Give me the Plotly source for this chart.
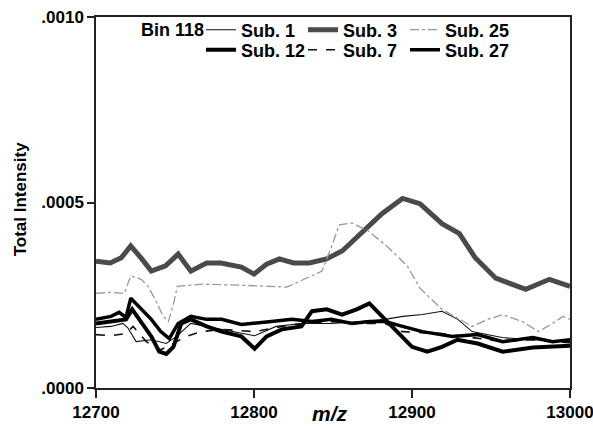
import plotly.graph_objects as go

# ---- data ----
sub3_mz = [12700, 12709, 12716, 12722, 12729, 12735, 12744, 12752, 12760, 12770, 12779, 12792, 12800, 12808,
           12816, 12825, 12835, 12846, 12856, 12870, 12881, 12894, 12905, 12919, 12930, 12940, 12953, 12972,
           12987, 13000]
sub3_val = [0.000342, 0.000337, 0.000351, 0.000383, 0.000348, 0.000315, 0.000329, 0.000361, 0.000315, 0.000337,
            0.000337, 0.000326, 0.000307, 0.000334, 0.000348, 0.000337, 0.000337, 0.000348, 0.000370, 0.000424,
            0.000470, 0.000511, 0.000497, 0.000443, 0.000416, 0.000351, 0.000296, 0.000266, 0.000293, 0.000274]

sub27_mz = [12700, 12709.5, 12714.6, 12719, 12722, 12728.6, 12735, 12741, 12746.4, 12752, 12760, 12770, 12779.5,
            12792, 12800.4, 12811, 12824, 12836.7, 12849, 12862, 12873, 12883, 12894, 12906.6, 12925.6, 12941.5,
            12957.4, 12976.5, 12989, 13000]
sub27_val = [0.000185, 0.000193, 0.000204, 0.000190, 0.000242, 0.000212, 0.000185, 0.000152, 0.000133, 0.000174,
             0.000193, 0.000185, 0.000185, 0.000171, 0.000174, 0.000179, 0.000185, 0.000179, 0.000185, 0.000174,
             0.000179, 0.000179, 0.000166, 0.000152, 0.000139, 0.000144, 0.000125, 0.000136, 0.000125, 0.000130]

sub12_mz = [12700, 12709.5, 12719, 12722.9, 12728.6, 12735, 12740, 12744.5, 12749, 12754, 12760, 12770, 12779.5,
            12792, 12800.4, 12808, 12817.6, 12830, 12836.7, 12846, 12855.7, 12865, 12873, 12881, 12890.7, 12900,
            12909.7, 12919, 12928.8, 12941.5, 12957.4, 12976.5, 13000]
sub12_val = [0.000174, 0.000179, 0.000185, 0.000212, 0.000179, 0.000139, 0.000098, 0.000092, 0.000111, 0.000174,
             0.000185, 0.000166, 0.000152, 0.000139, 0.000106, 0.000139, 0.000158, 0.000166, 0.000207, 0.000212,
             0.000198, 0.000212, 0.000228, 0.000193, 0.000152, 0.000111, 0.000098, 0.000111, 0.000130, 0.000120,
             0.000098, 0.000109, 0.000114]

sub1_mz = [12700, 12709.5, 12717, 12720, 12725.4, 12735, 12744.5, 12751, 12760, 12773, 12786, 12800.4, 12814,
           12830, 12849, 12868, 12883, 12894, 12906.6, 12919, 12929, 12938, 12957, 12976.5, 13000]
sub1_val = [0.000163, 0.000166, 0.000174, 0.000163, 0.000125, 0.000130, 0.000120, 0.000139, 0.000174, 0.000163,
            0.000152, 0.000141, 0.000166, 0.000174, 0.000174, 0.000179, 0.000185, 0.000193, 0.000198, 0.000207,
            0.000185, 0.000152, 0.000136, 0.000130, 0.000125]

sub7_mz = [12700, 12709.5, 12719, 12723.5, 12731.8, 12741, 12749, 12757, 12766.7, 12779.5, 12800.4, 12824, 12849,
           12868, 12883, 12894, 12906.6, 12919, 12938, 12957, 12976.5, 13000]
sub7_val = [0.000144, 0.000141, 0.000147, 0.000166, 0.000125, 0.000103, 0.000120, 0.000139, 0.000152, 0.000158,
            0.000152, 0.000171, 0.000179, 0.000174, 0.000174, 0.000152, 0.000149, 0.000147, 0.000136, 0.000125,
            0.000130, 0.000122]

sub25_mz = [12700, 12709.5, 12717.8, 12722, 12728.6, 12733, 12738, 12742.6, 12745.8, 12749, 12751.5, 12766.7,
            12792, 12820.8, 12843, 12849, 12854, 12862, 12872, 12884, 12897, 12905, 12919, 12938, 12948, 12957.4,
            12970, 12980, 12989, 12995.6, 13000]
sub25_val = [0.000255, 0.000258, 0.000255, 0.000302, 0.000293, 0.000274, 0.000234, 0.000193, 0.000179, 0.000226,
             0.000274, 0.000280, 0.000277, 0.000272, 0.000315, 0.000380, 0.000440, 0.000445, 0.000424, 0.000383,
             0.000329, 0.000269, 0.000212, 0.000166, 0.000185, 0.000198, 0.000179, 0.000152, 0.000174, 0.000193,
             0.000185]

x_ticks = [12700, 12800, 12900, 13000]
x_tick_text = ["12700", "12800", "12900", "13000"]
y_ticks = [0.0, 0.0005, 0.0010]
y_tick_text = [".0000", ".0005", ".0010"]
legend_title = "Bin 118"

FONT = "Liberation Sans"

fig = go.Figure()
# row 1 legend: Sub.1, Sub.3, Sub.25 ; row 2 legend: Sub.12, Sub.7, Sub.27
fig.add_trace(go.Scatter(x=sub1_mz, y=sub1_val, name="Sub. 1", mode="lines",
                         line=dict(color="#111111", width=1.1), legend="legend"))
fig.add_trace(go.Scatter(x=sub3_mz, y=sub3_val, name="Sub. 3", mode="lines",
                         line=dict(color="#4a4a4a", width=5), legend="legend"))
fig.add_trace(go.Scatter(x=sub25_mz, y=sub25_val, name="Sub. 25", mode="lines",
                         line=dict(color="#999999", width=1.3, dash="dashdot"), legend="legend",
                         legendwidth=74))
fig.add_trace(go.Scatter(x=sub12_mz, y=sub12_val, name="Sub. 12", mode="lines",
                         line=dict(color="#000000", width=4), legend="legend2"))
fig.add_trace(go.Scatter(x=sub7_mz, y=sub7_val, name="Sub. 7", mode="lines",
                         line=dict(color="#111111", width=1.6, dash="dash"), legend="legend2"))
fig.add_trace(go.Scatter(x=sub27_mz, y=sub27_val, name="Sub. 27", mode="lines",
                         line=dict(color="#000000", width=3.5), legend="legend2",
                         legendwidth=74))

leg_common = dict(
    orientation="h", x=0.2215, xanchor="left", yanchor="middle",
    bgcolor="rgba(0,0,0,0)", borderwidth=0,
    entrywidth=57, entrywidthmode="pixels", itemwidth=30,
    font=dict(family=FONT, size=18, color="black", weight=700),
    traceorder="normal",
)

fig.update_layout(
    width=593, height=427,
    margin=dict(l=96, r=23, t=17, b=39, autoexpand=False),
    paper_bgcolor="white", plot_bgcolor="white",
    font=dict(family=FONT, size=17, color="black", weight=700),
    showlegend=True,
    legend=dict(leg_common, y=0.965),
    legend2=dict(leg_common, y=0.911),
    xaxis=dict(
        range=[12700, 13000], tickvals=x_ticks, ticktext=x_tick_text,
        ticks="outside", ticklen=8, tickwidth=1.5, tickcolor="#222",
        showline=True, linecolor="#222", linewidth=1.5, mirror=True,
        showgrid=False, zeroline=False, ticklabeloverflow="allow", automargin=False,
        tickfont=dict(family=FONT, size=17, weight=700),
    ),
    yaxis=dict(
        range=[0, 0.0010], tickvals=y_ticks, ticktext=y_tick_text,
        ticks="outside", ticklen=7, tickwidth=1.5, tickcolor="#222",
        showline=True, linecolor="#222", linewidth=1.5, mirror=True,
        showgrid=False, zeroline=False, automargin=False,
        tickfont=dict(family=FONT, size=17, weight=700),
    ),
    annotations=[
        dict(text=legend_title, xref="paper", yref="paper", x=0.232, y=0.965,
             xanchor="right", yanchor="middle", showarrow=False,
             font=dict(family=FONT, size=18, weight=700)),
        dict(text="Total Intensity", xref="paper", yref="paper", x=-0.160, y=0.509,
             xanchor="center", yanchor="middle", textangle=-90, showarrow=False,
             font=dict(family=FONT, size=17, weight=700)),
        dict(text="<i>m/z</i>", xref="paper", yref="paper", x=0.494, y=-0.07,
             xanchor="center", yanchor="middle", showarrow=False,
             font=dict(family=FONT, size=21, weight=700)),
    ],
)

fig.write_html("out.html")
